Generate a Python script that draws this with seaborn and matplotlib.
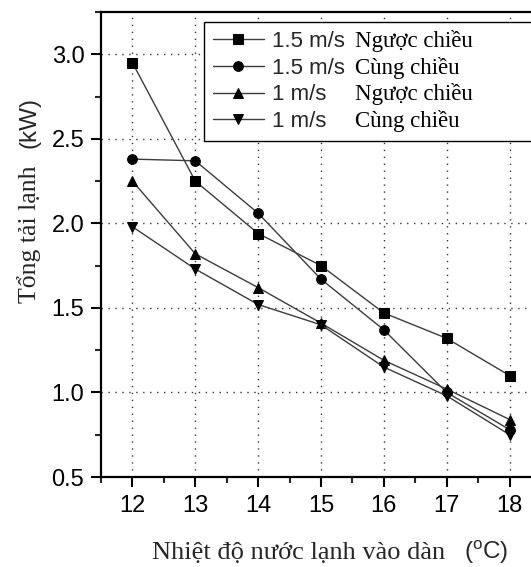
import matplotlib
matplotlib.use("Agg")
import matplotlib.pyplot as plt
import seaborn as sns
import numpy as np
from matplotlib.ticker import MultipleLocator

# ---- data ----
temps = [12, 13, 14, 15, 16, 17, 18]
v15_nguoc = [2.95, 2.25, 1.94, 1.75, 1.47, 1.32, 1.10]
v15_cung = [2.38, 2.37, 2.06, 1.67, 1.37, 1.00, 0.78]
v1_nguoc = [2.25, 1.82, 1.62, 1.41, 1.19, 1.02, 0.84]
v1_cung = [1.98, 1.73, 1.52, 1.40, 1.15, 0.98, 0.75]
speed_labels = ["1.5 m/s", "1.5 m/s", "1 m/s", "1 m/s"]
dir_labels = ["Ngược chiều", "Cùng chiều", "Ngược chiều", "Cùng chiều"]
x_ticks = [12, 13, 14, 15, 16, 17, 18]
y_ticks = [0.5, 1.0, 1.5, 2.0, 2.5, 3.0]
xlabel_text = "Nhiệt độ nước lạnh vào dàn"
ylabel_text = "Tổng tải lạnh"

sns.set_style("ticks")
SANS = ["Liberation Sans", "DejaVu Sans"]
SERIF = ["Liberation Serif", "DejaVu Serif"]
plt.rcParams["font.family"] = SANS
plt.rcParams["mathtext.fontset"] = "custom"
plt.rcParams["mathtext.rm"] = "Liberation Sans"
plt.rcParams["mathtext.it"] = "Liberation Sans:italic"

W, H = 531, 567
fig = plt.figure(figsize=(W / 100, H / 100), dpi=100)
ax = fig.add_axes([101 / W, (H - 477) / H, 440 / W, 465 / H])

series = [v15_nguoc, v15_cung, v1_nguoc, v1_cung]
markers = ["s", "o", "^", "v"]
msizes = [6.6, 7.0, 7.8, 7.8]
for vals, mk, ms, lab in zip(series, markers, msizes, speed_labels):
    sns.lineplot(x=temps, y=vals, ax=ax, marker=mk, markersize=ms,
                 color="#3c3c3c", linewidth=1.0, markerfacecolor="black",
                 markeredgecolor="black", label=lab, zorder=3)

ax.set_xlim(11.5, 18.5)
ax.set_ylim(0.5, 3.25)
ax.set_xticks(x_ticks)
ax.set_yticks(y_ticks)
ax.xaxis.set_minor_locator(MultipleLocator(0.5))
ax.yaxis.set_minor_locator(MultipleLocator(0.25))
ax.set_yticklabels([f"{v:.1f}" for v in y_ticks])
ax.tick_params(which="major", direction="out", length=7, width=1.5,
               labelsize=17, pad=5, colors="black")
ax.tick_params(which="minor", direction="out", length=4, width=1.5)
ax.tick_params(axis="x", which="major", pad=6)
for s in ax.spines.values():
    s.set_linewidth(1.6)
    s.set_color("black")
ax.grid(True, which="major", linestyle=(0, (1, 4)), linewidth=1.0, color="#333333")
ax.set_xlabel("")
ax.set_ylabel("")

leg = ax.legend(loc="upper left", bbox_to_anchor=(0.234, 0.6, 0.9, 0.3785),
                mode="expand", borderaxespad=0, fontsize=16, frameon=True,
                fancybox=False, edgecolor="black", framealpha=1,
                handlelength=2.3, handletextpad=0.35, labelspacing=0.26,
                borderpad=0.4)
leg.get_frame().set_linewidth(1.0)
leg.set_zorder(5)

fig.canvas.draw()
renderer = fig.canvas.get_renderer()
for txt, lab in zip(leg.get_texts(), dir_labels):
    bb = txt.get_window_extent(renderer)
    _, _, d = renderer.get_text_width_height_descent("lp", txt.get_fontproperties(), ismath=False)
    baseline = bb.y0 + d
    fig.text(355 / W, baseline / H, lab, ha="left", va="baseline",
             family=SERIF, fontsize=16.5, color="black", zorder=6)

# y label (serif part + sans part), rotated
fig.text(36 / W, (H - 303) / H, ylabel_text, rotation=90, rotation_mode="anchor",
         ha="left", va="baseline", family=SERIF, fontsize=18.5)
fig.text(36 / W, (H - 148) / H, "(kW)", rotation=90, rotation_mode="anchor",
         ha="left", va="baseline", family=SANS, fontsize=17.5)

# x label
fig.text(152 / W, (H - 559) / H, xlabel_text, ha="left", va="baseline",
         family=SERIF, fontsize=19)
fig.text(464 / W, (H - 559) / H, r"$(^{\mathrm{o}}\mathrm{C})$", ha="left", va="baseline",
         fontsize=17.5)

fig.savefig("out.png", dpi=100)
